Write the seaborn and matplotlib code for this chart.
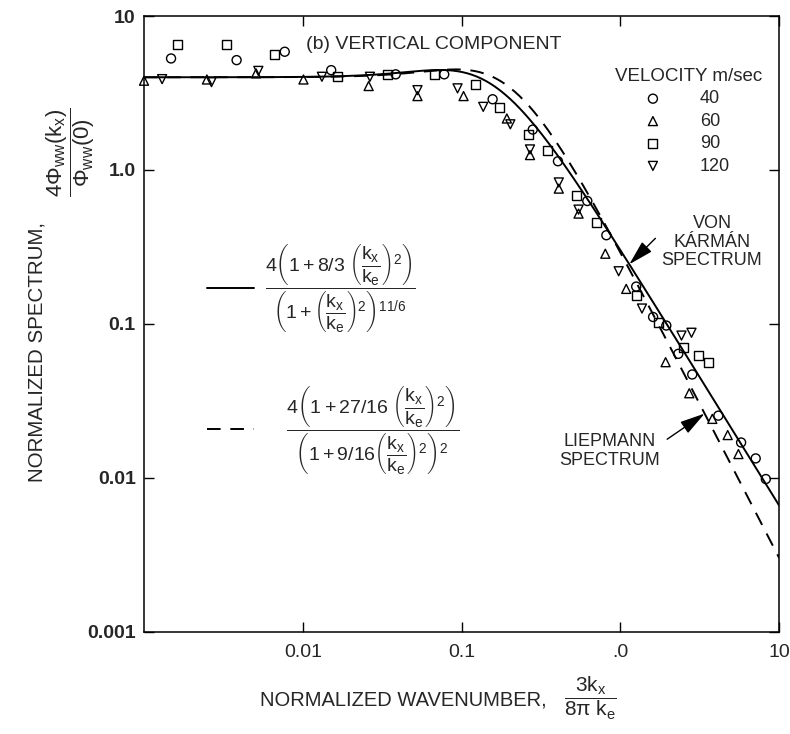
import numpy as np
import matplotlib
matplotlib.use("Agg")
import matplotlib.pyplot as plt
import seaborn as sns

# Measured spectra: normalized wavenumber 3k_x/(8 pi k_e) and normalized spectrum
wn_40 = [0.00148, 0.00383, 0.0077, 0.0151, 0.0385, 0.0778, 0.157, 0.281, 0.405,
         0.62, 0.817, 1.26, 1.61, 1.95, 2.32, 2.84, 4.15, 5.77, 7.13, 8.26]
sp_40 = [5.3, 5.17, 5.86, 4.45, 4.18, 4.18, 2.88, 1.83, 1.14,
         0.629, 0.377, 0.175, 0.111, 0.0977, 0.064, 0.047, 0.0254, 0.017, 0.0134, 0.00984]

wn_60 = [0.001, 0.00249, 0.00508, 0.0101, 0.026, 0.0528, 0.103, 0.193, 0.270, 0.41,
         0.546, 0.805, 1.09, 1.93, 2.72, 3.8, 4.75, 5.55]
sp_60 = [3.8, 3.87, 4.24, 3.87, 3.51, 3.02, 3.02, 2.16, 1.25, 0.757,
         0.521, 0.286, 0.169, 0.0565, 0.0355, 0.0242, 0.019, 0.0143]

wn_90 = [0.00162, 0.0033, 0.00666, 0.0165, 0.0341, 0.0672, 0.122, 0.173, 0.264, 0.347,
         0.528, 0.706, 1.26, 1.73, 2.49, 3.1, 3.62]
sp_90 = [6.55, 6.5, 5.64, 4.07, 4.18, 4.18, 3.61, 2.54, 1.71, 1.33,
         0.686, 0.459, 0.153, 0.103, 0.0706, 0.0623, 0.056]

wn_120 = [0.0013, 0.00266, 0.00525, 0.0132, 0.0265, 0.0528, 0.0944, 0.137, 0.203, 0.270,
          0.41, 0.546, 0.977, 1.37, 2.43, 2.81]
sp_120 = [3.89, 3.72, 4.4, 4.03, 4.03, 3.3, 3.39, 2.57, 1.98, 1.36,
          0.83, 0.553, 0.22, 0.126, 0.0841, 0.0877]

velocities = ["40", "60", "90", "120"]
markers = ["o", "^", "s", "v"]
series_x = [wn_40, wn_60, wn_90, wn_120]
series_y = [sp_40, sp_60, sp_90, sp_120]

x_ticks = [0.01, 0.1, 1.0, 10]
x_tick_labels = ["0.01", "0.1", ".0", "10"]
y_ticks = [0.001, 0.01, 0.1, 1.0, 10]
y_tick_labels = ["0.001", "0.01", "0.1", "1.0", "10"]


def von_karman(X):
    r2 = (8 * np.pi * np.asarray(X) / 3) ** 2
    return 4 * (1 + 8 / 3 * r2) / (1 + r2) ** (11 / 6)


def liepmann(X):
    r2 = (8 * np.pi * np.asarray(X) / 3) ** 2
    return 4 * (1 + 27 / 16 * r2) / (1 + 9 / 16 * r2) ** 2


sns.set_style("ticks")
plt.rcParams["font.family"] = ["Liberation Sans", "DejaVu Sans"]
plt.rcParams["mathtext.fontset"] = "custom"
plt.rcParams["mathtext.rm"] = "Liberation Sans"
plt.rcParams["mathtext.it"] = "Liberation Sans"
plt.rcParams["mathtext.bf"] = "Liberation Sans:bold"

fig = plt.figure(figsize=(7.9, 7.34), dpi=100)
ax = fig.add_axes([0.1823, 0.1390, 0.8038, 0.8392])
ax.set_xscale("log")
ax.set_yscale("log")

grid = np.logspace(-3, 1, 400)
sns.lineplot(x=grid, y=von_karman(grid), color="black", linewidth=1.4, ax=ax)
sns.lineplot(x=grid, y=liepmann(grid), color="black", linewidth=1.4,
             linestyle=(0, (7, 5)), ax=ax)
vk_line, lp_line = ax.lines[0], ax.lines[1]

for xs, ys, mk, lab in zip(series_x, series_y, markers, velocities):
    sns.scatterplot(x=xs, y=ys, marker=mk, s=42, facecolor="none",
                    edgecolor="black", linewidth=1.0, label=lab, ax=ax,
                    clip_on=False, zorder=3)

ax.set_xlim(0.001, 10)
ax.set_ylim(0.001, 10)
ax.set_xticks(x_ticks)
ax.set_xticklabels(x_tick_labels)
ax.set_yticks(y_ticks)
ax.set_yticklabels(y_tick_labels, fontweight="bold")
ax.minorticks_off()
ax.tick_params(axis="both", which="major", direction="in", length=7, width=1.0,
               top=True, right=True, color="black")
ax.tick_params(axis="x", labelsize=14, pad=9)
ax.tick_params(axis="y", labelsize=14, pad=6)
for sp in ax.spines.values():
    sp.set_linewidth(1.1)
    sp.set_color("black")

# Velocity legend
handles, labels = ax.get_legend_handles_labels()
leg1 = ax.legend(handles, labels, title="VELOCITY m/sec", loc="upper left",
                 bbox_to_anchor=(0.7417, 0.9156), frameon=False, fontsize=13,
                 title_fontsize=13.5, alignment="left", handlelength=4.2,
                 handletextpad=0.5, labelspacing=0.3, borderpad=0,
                 borderaxespad=0, scatterpoints=1)
ax.add_artist(leg1)

# Formula legend for the two theoretical curves
f_vk = (r"$\dfrac{4\left(1 + 8/3\ \left(\dfrac{k_x}{k_e}\right)^2\right)}"
        r"{\left(1 + \left(\dfrac{k_x}{k_e}\right)^2\right)^{11/6}}$")
f_lp = (r"$\quad\ \dfrac{4\left(1 + 27/16\ \left(\dfrac{k_x}{k_e}\right)^2\right)}"
        r"{\left(1 + 9/16\left(\dfrac{k_x}{k_e}\right)^2\right)^2}$")
ax.legend([vk_line, lp_line], [f_vk, f_lp], loc="upper left",
          bbox_to_anchor=(0.0992, 0.6315), frameon=False, fontsize=14,
          handlelength=2.4, handletextpad=0.6, labelspacing=2.55,
          borderpad=0, borderaxespad=0)

ax.text(0.255, 0.9545, "(b) VERTICAL COMPONENT", transform=ax.transAxes,
        fontsize=14, ha="left", va="center")

ax.annotate("VON\nKÁRMÁN\nSPECTRUM", xy=(1.14, von_karman(1.14)),
            xytext=(0.8945, 0.6331), textcoords="axes fraction",
            ha="center", va="center", fontsize=13, linespacing=1.15,
            arrowprops=dict(arrowstyle="-|>,head_length=1.1,head_width=0.3",
                            color="black", lw=1.0, mutation_scale=14,
                            relpos=(0.0, 0.68), shrinkA=3, shrinkB=0))
ax.annotate("LIEPMANN\nSPECTRUM", xy=(3.4, liepmann(3.4)),
            xytext=(0.7339, 0.2938), textcoords="axes fraction",
            ha="center", va="center", fontsize=13, linespacing=1.15,
            arrowprops=dict(arrowstyle="-|>,head_length=1.1,head_width=0.3",
                            color="black", lw=1.0, mutation_scale=14,
                            relpos=(1.0, 0.7), shrinkA=3, shrinkB=0))

# Axis titles
fig.text(403 / 790, 1 - 700 / 734, "NORMALIZED WAVENUMBER,", fontsize=14.5,
         ha="center", va="center")
fig.text(590 / 790, 1 - 698 / 734, r"$\dfrac{3k_x}{8\pi\ k_e}$", fontsize=15,
         ha="center", va="center")
fig.text(37 / 790, 1 - 352 / 734, "NORMALIZED SPECTRUM,", fontsize=14.8,
         rotation=90, ha="center", va="center")
fig.text(71 / 790, 1 - 152 / 734, r"$\dfrac{4\Phi_{ww}(k_x)}{\Phi_{ww}(0)}$",
         fontsize=16, rotation=90, ha="center", va="center")

fig.savefig("out.png", dpi=100, facecolor="white")
